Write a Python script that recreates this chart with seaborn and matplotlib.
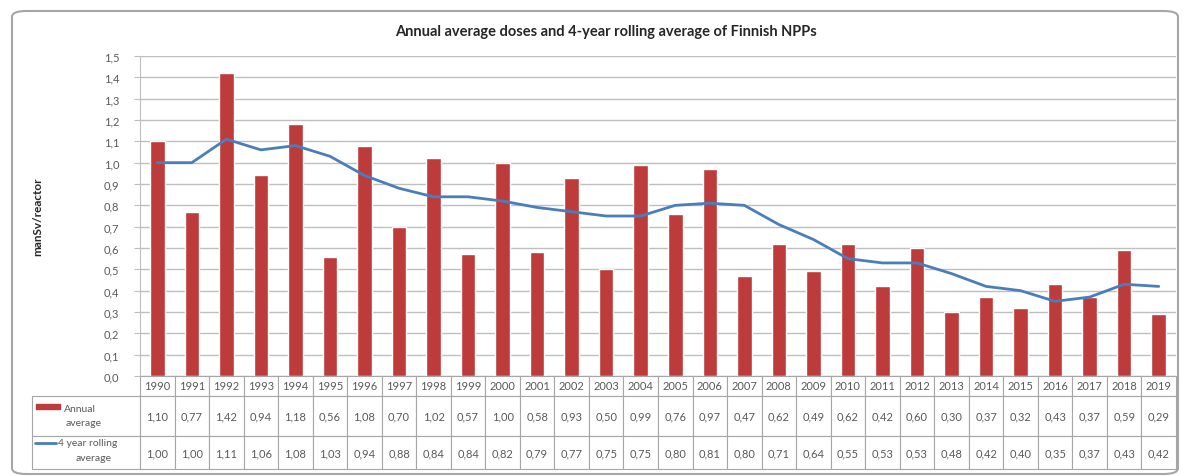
import numpy as np
import pandas as pd
import matplotlib
matplotlib.use("Agg")
import matplotlib.pyplot as plt
import seaborn as sns
from matplotlib.patches import FancyBboxPatch, Rectangle
from matplotlib.lines import Line2D

years = [str(y) for y in range(1990, 2020)]
annual = [1.10, 0.77, 1.42, 0.94, 1.18, 0.56, 1.08, 0.70, 1.02, 0.57,
          1.00, 0.58, 0.93, 0.50, 0.99, 0.76, 0.97, 0.47, 0.62, 0.49,
          0.62, 0.42, 0.60, 0.30, 0.37, 0.32, 0.43, 0.37, 0.59, 0.29]
rolling = [1.00, 1.00, 1.11, 1.06, 1.08, 1.03, 0.94, 0.88, 0.84, 0.84,
           0.82, 0.79, 0.77, 0.75, 0.75, 0.80, 0.81, 0.80, 0.71, 0.64,
           0.55, 0.53, 0.53, 0.48, 0.42, 0.40, 0.35, 0.37, 0.43, 0.42]
yticks = [round(0.1 * i, 1) for i in range(16)]
title = "Annual average doses and 4-year rolling average of Finnish NPPs"
ylabel = "manSv/reactor"
row_labels = [("Annual", "average"), ("4 year rolling", "average")]

df = pd.DataFrame({"year": years, "annual": annual, "rolling": rolling})

sns.set_style("white")
plt.rcParams["font.family"] = ["Lato", "DejaVu Sans"]

BAR = "#BE3B3B"
LINE = "#4A7EBB"
TXT = "#595959"
GRID = "#BFBFBF"

W, H = 1189, 477
fig = plt.figure(figsize=(W / 100, H / 100), dpi=100)

# outer frame
frame = FancyBboxPatch((12 / W, 2 / H), 1166 / W, 463 / H,
                       boxstyle="round,pad=0,rounding_size=0.012",
                       transform=fig.transFigure, fill=False,
                       edgecolor="#A6A6A6", linewidth=1.5)
fig.patches.append(frame)

L, R, T, B = 140, 1176, 57, 377
ax = fig.add_axes([L / W, 1 - B / H, (R - L) / W, (B - T) / H])
sns.barplot(data=df, x="year", y="annual", color=BAR, width=0.42,
            saturation=1, ax=ax, zorder=3)
ax.plot(np.arange(len(years)), rolling, color=LINE, linewidth=2, zorder=4)
ax.set_xlim(-0.5, len(years) - 0.5)
ax.set_ylim(0, 1.5)
ax.set_yticks(yticks)
ax.set_yticklabels([f"{v:.1f}".replace(".", ",") for v in yticks],
                   fontsize=8, color=TXT)
ax.yaxis.grid(True, color=GRID, linewidth=1, zorder=0)
ax.set_axisbelow(True)
ax.set_xticks([])
ax.set_xlabel("")
ax.set_ylabel(ylabel, fontsize=8.5, fontweight="bold", color="#262626",
              labelpad=44)
ax.tick_params(axis="y", length=4, color=GRID, pad=22, direction="out", left=True)
for s in ["top", "right", "bottom"]:
    ax.spines[s].set_visible(False)
ax.spines["left"].set_color(GRID)
for lab in ax.get_yticklabels():
    lab.set_horizontalalignment("left")

fig.text(0.51, 1 - 32 / H, title, ha="center", va="center",
         fontsize=10.5, fontweight="bold", color="#262626")

# data table
TL = 32
tax = fig.add_axes([TL / W, 1 - 470 / H, (R - TL) / W, (470 - B) / H])
tax.axis("off")
cells = [[""] + years,
         [""] + [f"{v:.2f}".replace(".", ",") for v in annual],
         [""] + [f"{v:.2f}".replace(".", ",") for v in rolling]]
lab_w = (L - TL) / (R - TL)
col_w = (1 - lab_w) / len(years)
tbl = tax.table(cellText=cells, bbox=[0, 0, 1, 1],
                colWidths=[lab_w] + [col_w] * len(years), cellLoc="center")
tbl.auto_set_font_size(False)
heights = [20 / 93, 40 / 93, 33 / 93]
for (r, c), cell in tbl.get_celld().items():
    cell.set_height(heights[r])
    cell.set_edgecolor("#A6A6A6")
    cell.set_linewidth(0.8)
    cell.get_text().set_fontsize(8)
    cell.get_text().set_color(TXT)
    if r == 0 and c == 0:
        cell.visible_edges = ""

# legend keys and labels in row-label cells (figure pixel positions)
def fx(px):
    return px / W

def fy(py):
    return 1 - py / H

fig.patches.append(Rectangle((fx(36), fy(410)), 24 / W, 5 / H,
                             transform=fig.transFigure, color=BAR))
fig.text(fx(64), fy(410), row_labels[0][0], fontsize=7.5, color=TXT,
         ha="left", va="center")
fig.text(fx(84), fy(424), row_labels[0][1], fontsize=7.5, color=TXT,
         ha="center", va="center")
fig.lines.append(Line2D([fx(35), fx(56)], [fy(444), fy(444)],
                        transform=fig.transFigure, color=LINE, linewidth=2))
fig.text(fx(58), fy(444), row_labels[1][0], fontsize=7.5, color=TXT,
         ha="left", va="center")
fig.text(fx(94), fy(459), row_labels[1][1], fontsize=7.5, color=TXT,
         ha="center", va="center")

fig.savefig("out.png", dpi=100)
